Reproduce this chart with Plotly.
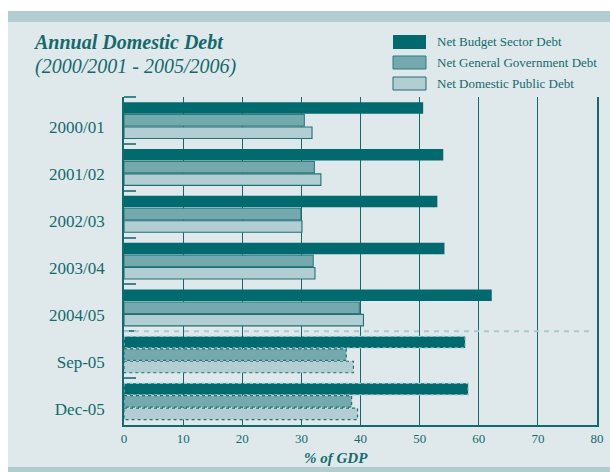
import plotly.graph_objects as go

# ---- data ----
categories = ["2000/01", "2001/02", "2002/03", "2003/04", "2004/05", "Sep-05", "Dec-05"]
budget_sector = [50.6, 54.0, 53.0, 54.2, 62.2, 57.7, 58.2]
general_government = [30.5, 32.2, 29.9, 32.0, 39.8, 37.6, 38.5]
domestic_public = [31.8, 33.3, 30.1, 32.3, 40.5, 38.8, 39.5]
series_names = ["Net Budget Sector Debt", "Net General Government Debt", "Net Domestic Public Debt"]
quarterly_rows = ["Sep-05", "Dec-05"]
x_tick_values = [0, 10, 20, 30, 40, 50, 60, 70, 80]

# ---- style ----
W, H = 610, 472
ML, MR, MT, MB = 124, 13, 97, 47
PW, PH = W - ML - MR, H - MT - MB
FONT = "Liberation Serif"
TEAL = "#14696d"
PANEL = "#dfe9eb"
BAND = "#b1cdd1"
fills = ["#006a6e", "#74aaae", "#b2ced2"]
outlines = ["#006a6e", "#2d7b80", "#1f7175"]
dot_outlines = ["#9cc3c6", "#1f6f73", "#1f6f73"]
bar_w = 0.245
offsets = [-0.39, -0.125, 0.14]
legend_rows = [(35, 49), (56, 69), (77, 90)]


def px_x(p):
    return (p - ML) / PW


def px_y(p):
    return (H - MB - p) / PH


idx = list(range(len(categories)))
values = [budget_sector, general_government, domestic_public]
is_q = [c in quarterly_rows for c in categories]

fig = go.Figure()
for k, (name, vals) in enumerate(zip(series_names, values)):
    lw = [0 if q else (0 if k == 0 else 1.1) for q in is_q]
    fig.add_trace(go.Bar(
        y=idx, x=vals, orientation="h", name=name,
        width=bar_w, offset=offsets[k], showlegend=False,
        marker=dict(color=fills[k], line=dict(color=outlines[k], width=lw)),
        hoverinfo="x+name",
    ))

# dotted outlines for quarterly rows
for k, vals in enumerate(values):
    for i, (v, q) in enumerate(zip(vals, is_q)):
        if not q:
            continue
        y0 = i + offsets[k]
        y1 = y0 + bar_w
        fig.add_trace(go.Scatter(
            x=[0, v, v, 0, 0], y=[y0, y0, y1, y1, y0], mode="lines",
            line=dict(color=dot_outlines[k], width=1.2, dash="dot"),
            showlegend=False, hoverinfo="skip",
        ))

# separator between annual and quarterly rows
sep_y = categories.index(quarterly_rows[0]) - 0.5
fig.add_shape(type="line", xref="x", yref="y", x0=0, x1=79.2, y0=sep_y, y1=sep_y,
              line=dict(color="#aac9cd", width=2, dash="5px,5px"), layer="above")

# background panel and bands
fig.add_shape(type="rect", xref="paper", yref="paper", x0=px_x(8), x1=px_x(W), y0=px_y(H), y1=px_y(11),
              fillcolor=PANEL, line=dict(width=0), layer="below")
fig.add_shape(type="rect", xref="paper", yref="paper", x0=px_x(8), x1=px_x(W), y0=px_y(22), y1=px_y(11),
              fillcolor=BAND, line=dict(width=0), layer="below")
fig.add_shape(type="rect", xref="paper", yref="paper", x0=px_x(8), x1=px_x(W), y0=px_y(H), y1=px_y(467),
              fillcolor=BAND, line=dict(width=0), layer="below")

# legend (drawn as swatches + labels)
for k, name in enumerate(series_names):
    t, b = legend_rows[k]
    fig.add_shape(type="rect", xref="paper", yref="paper", x0=px_x(393), x1=px_x(426),
                  y0=px_y(b), y1=px_y(t), fillcolor=fills[k],
                  line=dict(color=outlines[k], width=1 if k else 0), layer="above")
    fig.add_annotation(xref="paper", yref="paper", x=px_x(435), y=px_y((t + b) / 2), xanchor="left",
                       yanchor="middle", text=name, showarrow=False,
                       font=dict(family=FONT, size=13, color=TEAL))

fig.add_annotation(xref="paper", yref="paper", x=px_x(31), y=px_y(42), xanchor="left", yanchor="middle",
                   text="<b><i>Annual Domestic Debt</i></b>", showarrow=False,
                   font=dict(family=FONT, size=20, color=TEAL))
fig.add_annotation(xref="paper", yref="paper", x=px_x(33), y=px_y(67), xanchor="left", yanchor="middle",
                   text="<i>(2000/2001 - 2005/2006)</i>", showarrow=False,
                   font=dict(family=FONT, size=20, color=TEAL))
fig.add_annotation(xref="paper", yref="paper", x=px_x(336), y=px_y(458), xanchor="center", yanchor="middle",
                   text="<b><i>% of GDP</i></b>", showarrow=False,
                   font=dict(family=FONT, size=15, color=TEAL))

fig.update_layout(
    width=W, height=H, margin=dict(l=ML, r=MR, t=MT, b=MB, autoexpand=False),
    paper_bgcolor="white", plot_bgcolor="rgba(0,0,0,0)",
    barmode="overlay", showlegend=False,
    font=dict(family=FONT, color=TEAL),
    xaxis=dict(range=[0, 80], tickvals=x_tick_values, showgrid=True, gridcolor=TEAL, gridwidth=1.2,
               showline=True, linecolor=TEAL, linewidth=2, ticks="", zeroline=False,
               tickfont=dict(family=FONT, size=13, color=TEAL), fixedrange=True),
    yaxis=dict(range=[len(categories) - 0.5, -0.5], tickvals=[i + 0.15 for i in idx], ticktext=categories,
               showgrid=False, showline=True, mirror=True, linecolor=TEAL, linewidth=1.5, ticks="",
               zeroline=False, ticklabelstandoff=14,
               tickfont=dict(family=FONT, size=17, color=TEAL),
               minor=dict(tickmode="array", tickvals=[i - 0.5 for i in range(len(categories))],
                          ticks="inside", ticklen=12, tickcolor="#3f8589", tickwidth=1.5, showgrid=False),
               fixedrange=True),
)

fig.write_html("out.html")
